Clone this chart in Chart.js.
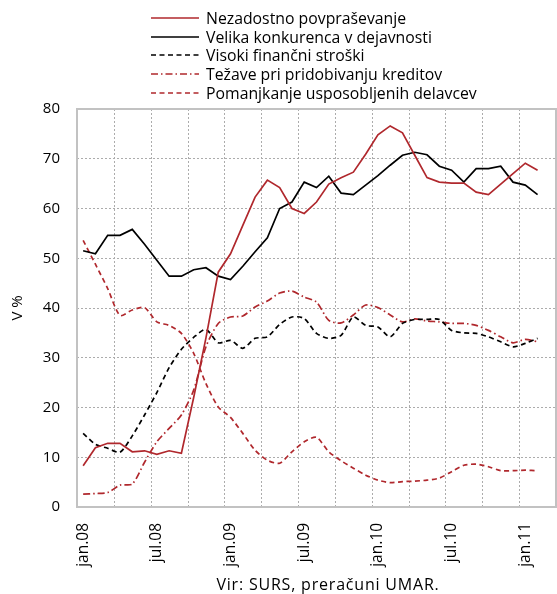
<!DOCTYPE html>
<html>
<head>
<meta charset="utf-8">
<script src="https://cdn.jsdelivr.net/npm/chart.js@4.4.1/dist/chart.umd.min.js"></script>
<style>
html,body{margin:0;padding:0;background:#fff;}
#wrap{position:relative;width:557px;height:594px;font-family:"Open Sans",sans-serif;color:#000;}
#c{position:absolute;left:0;top:0;}
#legend{position:absolute;left:150px;top:9px;}
.item{height:18.6px;display:flex;align-items:center;font-size:15.8px;white-space:nowrap;}
.item svg{width:50px;height:6px;margin-right:6px;flex:none;}
#caption{position:absolute;left:100px;width:456px;top:573px;text-align:center;font-size:16px;letter-spacing:0.8px;}
</style>
</head>
<body>
<div id="wrap">
<canvas id="c" width="557" height="594"></canvas>
<div id="legend"></div>
<div id="caption">Vir: SURS, preračuni UMAR.</div>
</div>
<script>
// Categories: monthly, jan.08 – mar.11
const months = [
 "jan.08","feb.08","mar.08","apr.08","maj.08","jun.08","jul.08","avg.08","sep.08","okt.08","nov.08","dec.08",
 "jan.09","feb.09","mar.09","apr.09","maj.09","jun.09","jul.09","avg.09","sep.09","okt.09","nov.09","dec.09",
 "jan.10","feb.10","mar.10","apr.10","maj.10","jun.10","jul.10","avg.10","sep.10","okt.10","nov.10","dec.10",
 "jan.11","feb.11","mar.11"
];
const yTicks = [0,10,20,30,40,50,60,70,80];

const seriesNames = [
 "Nezadostno povpraševanje",
 "Velika konkurenca v dejavnosti",
 "Visoki finančni stroški",
 "Težave pri pridobivanju kreditov",
 "Pomanjkanje usposobljenih delavcev"
];

const nezadostno = [8.3,11.9,12.8,12.8,11.1,11.3,10.6,11.3,10.8,22.0,34.0,47.2,
 50.9,56.6,62.3,65.7,64.2,60.0,59.0,61.3,64.9,66.2,67.3,70.9,
 74.8,76.6,75.2,70.7,66.2,65.3,65.1,65.1,63.3,62.8,64.9,67.0,
 69.1,67.7];
const velikaKonkurenca = [51.5,50.9,54.6,54.6,55.8,52.8,49.6,46.4,46.4,47.7,48.1,46.4,
 45.7,48.4,51.3,54.1,60.0,61.3,65.3,64.2,66.5,63.1,62.8,64.7,
 66.6,68.7,70.7,71.3,70.8,68.5,67.7,65.3,68.0,68.0,68.5,65.3,
 64.7,62.8];
const visokiStroski = [14.8,12.6,11.8,11.0,14.3,18.5,23.0,28.0,31.7,34.1,35.7,33.0,
 33.5,31.9,33.9,34.2,36.7,38.2,37.9,34.9,33.9,34.5,38.2,36.5,
 36.2,34.2,36.9,37.7,37.7,37.7,35.5,35.0,34.9,34.2,33.2,32.2,
 32.9,33.9];
const tezaveKrediti = [2.6,2.7,2.9,4.4,4.6,9.0,13.1,15.8,18.5,23.5,32.2,36.9,
 38.2,38.4,40.2,41.4,43.0,43.4,42.2,41.2,37.5,37.0,38.6,40.6,
 40.1,38.6,37.2,37.8,37.4,37.2,36.9,36.9,36.5,35.5,34.2,33.0,
 33.7,33.2];
const pomanjkanjeDelavcev = [53.6,48.8,43.9,38.5,39.6,40.1,37.2,36.5,34.9,30.9,24.8,20.1,
 18.0,14.8,11.4,9.4,8.8,11.1,13.1,14.0,11.1,9.3,7.8,6.4,
 5.4,4.9,5.1,5.2,5.4,5.8,7.1,8.4,8.6,8.1,7.3,7.3,
 7.4,7.3];

const RED = "#b0282d";
const BLACK = "#000000";
const styles = [
 {color: RED, dash: [], tension: 0},
 {color: BLACK, dash: [], tension: 0},
 {color: BLACK, dash: [5,3.5], tension: 0.25},
 {color: RED, dash: [7,3,1.5,3], tension: 0.25},
 {color: RED, dash: [5,3.5], tension: 0.25}
];
const seriesData = [nezadostno, velikaKonkurenca, visokiStroski, tezaveKrediti, pomanjkanjeDelavcev];

Chart.defaults.font.family = '"Open Sans", sans-serif';
Chart.defaults.color = '#000';

const GRID = '#acacac';

// plot frame + vertical dotted grid every 3 categories (category boundaries)
const framePlugin = {
  id: 'frame',
  beforeDatasetsDraw(chart) {
    const {ctx, chartArea: a} = chart;
    const xs = chart.scales.x;
    ctx.save();
    ctx.strokeStyle = GRID;
    ctx.lineWidth = 1;
    ctx.setLineDash([2,2]);
    for (let k = 3; k < months.length; k += 3) {
      const x = Math.round(xs.getPixelForValue(k - 0.5)) + 0.5;
      ctx.beginPath();
      ctx.moveTo(x, a.top);
      ctx.lineTo(x, a.bottom);
      ctx.stroke();
    }
    ctx.setLineDash([]);
    ctx.strokeStyle = '#c2c2c2';
    ctx.lineWidth = 2;
    ctx.strokeRect(a.left, a.top, a.right - a.left, a.bottom - a.top);
    ctx.restore();
  }
};

new Chart(document.getElementById('c'), {
  type: 'line',
  data: {
    labels: months,
    datasets: seriesData.map((d, i) => ({
      label: seriesNames[i],
      data: d,
      borderColor: styles[i].color,
      backgroundColor: styles[i].color,
      borderDash: styles[i].dash,
      borderWidth: 1.7,
      tension: styles[i].tension,
      pointRadius: 0,
      fill: false
    }))
  },
  options: {
    responsive: false,
    animation: false,
    events: [],
    layout: {padding: {top: 109, right: 1, bottom: 0, left: 0}},
    plugins: {legend: {display: false}, tooltip: {enabled: false}},
    scales: {
      x: {
        type: 'category',
        offset: true,
        afterFit(s) { s.height = 87; s.paddingLeft = 0; s.paddingRight = 0; },
        border: {display: false},
        grid: {display: true, drawOnChartArea: false, drawTicks: false},
        ticks: {
          autoSkip: false,
          maxRotation: 90,
          minRotation: 90,
          padding: 16,
          font: {size: 15.5},
          callback: function(val, idx) { return idx % 6 === 0 ? this.getLabelForValue(val) : ''; }
        }
      },
      y: {
        min: 0, max: 80,
        afterFit(s) { s.width = 77; s.paddingTop = 0; s.paddingBottom = 0; },
        afterBuildTicks(s) { s.ticks = yTicks.map(v => ({value: v})); },
        border: {display: false, dash: [2,2]},
        grid: {
          drawTicks: false,
          lineWidth: 1,
          color: (ctx) => (ctx.tick && (ctx.tick.value === 0 || ctx.tick.value === 80)) ? 'rgba(0,0,0,0)' : GRID
        },
        ticks: {padding: 17, font: {size: 15}},
        title: {display: true, text: 'V %', font: {size: 15}, padding: {top: 9, bottom: 0}}
      }
    }
  },
  plugins: [framePlugin]
});

// HTML legend built from series names and styles
const lg = document.getElementById('legend');
seriesNames.forEach((name, i) => {
  const row = document.createElement('div');
  row.className = 'item';
  const dash = styles[i].dash.length ? styles[i].dash.join(' ') : 'none';
  row.innerHTML = '<svg viewBox="0 0 50 6"><line x1="1" y1="3" x2="49" y2="3" stroke="' + styles[i].color +
    '" stroke-width="1.7" stroke-dasharray="' + dash + '"/></svg><span></span>';
  row.querySelector('span').textContent = name;
  lg.appendChild(row);
});
</script>
</body>
</html>
